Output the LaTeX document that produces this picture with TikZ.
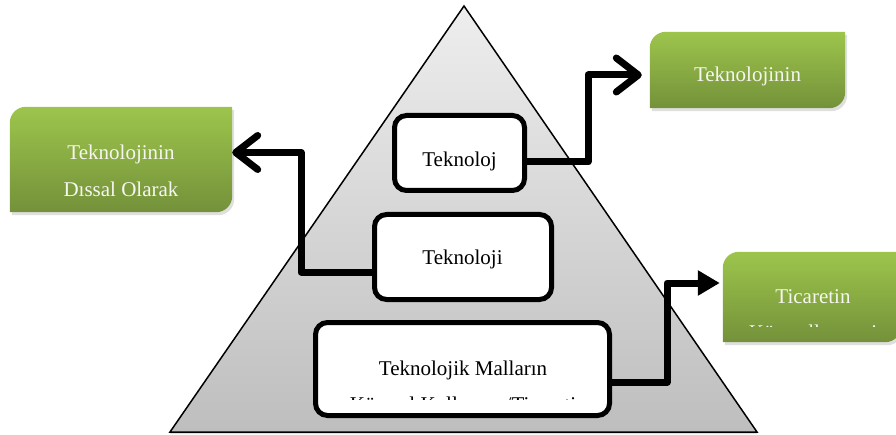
\documentclass[tikz,border=0pt]{standalone}
\usepackage{fontspec}
\setmainfont{Liberation Serif}
\usetikzlibrary{arrows.meta,shadows}
\definecolor{gtop}{RGB}{157,197,76}
\definecolor{gbot}{RGB}{116,145,58}
\definecolor{tritop}{RGB}{238,238,238}
\definecolor{tribot}{RGB}{190,190,190}
\definecolor{gtext}{RGB}{246,246,240}
\begin{document}
\begin{tikzpicture}[x=1pt,y=1pt,
  wbox/.style={draw=black,line width=5pt,fill=white,rounded corners=12pt,inner sep=0pt,rectangle},
  gbox/.style={inner sep=0pt,rectangle},
  btxt/.style={font=\fontsize{21}{25}\selectfont,text=black,inner sep=0pt,anchor=base},
  gtxt/.style={btxt,text=gtext},
  gfill/.style={top color=gtop,bottom color=gbot,draw=none,
    drop shadow={opacity=0.25,shadow xshift=2pt,shadow yshift=-3pt}},
  conn/.style={line width=7pt,line join=round,draw=black},
  barb/.style={-{Straight Barb[length=22pt,width=34pt,line cap=round,line join=round]}},
  tri/.style={-{Triangle[length=22pt,width=24pt]}}
]
\clip (0,0) rectangle (896,434);
\useasboundingbox (0,0) rectangle (896,434);

% pyramid
\path[draw=black,line width=1.5pt,top color=tritop,bottom color=tribot,
  drop shadow={opacity=0.25,shadow xshift=0pt,shadow yshift=-2pt}]
  (464,428) -- (757,2) -- (170,2) -- cycle;

% white boxes
\node[wbox,minimum width=130pt,minimum height=75pt] (b1) at (459.5,281) {};
\node[wbox,minimum width=177pt,minimum height=85pt] (b2) at (463,177) {};
\node[wbox,minimum width=294pt,minimum height=93pt] (b3) at (462.5,65) {};

\node[btxt] (t1) at (459.5,267) {Teknoloj};
\node[btxt] (t2) at (462.5,169) {Teknoloji};
\node[btxt] (t3) at (463,59) {Teknolojik Malların};
\begin{scope}
  \clip (316,35) rectangle (609,112);
  \node[btxt] (t3b) at (463,23) {Küresel Kullanımı/Ticareti};
\end{scope}

% green boxes
\node[gbox,minimum width=222pt,minimum height=105pt] (gl) at (121,274.5) {};
\node[gbox,minimum width=195pt,minimum height=76pt] (gr) at (747.5,364) {};
\node[gbox,minimum width=178pt,minimum height=90pt] (gb) at (812,137) {};

\foreach \n in {gl,gr,gb}{
  \path[gfill] (\n.south west) -- ([yshift=-16pt]\n.north west)
    arc[start angle=180,end angle=90,radius=16pt] -- (\n.north east)
    -- ([yshift=16pt]\n.south east)
    arc[start angle=0,end angle=-90,radius=16pt] -- cycle;
}

\node[gtxt] (gl1) at (121,274) {Teknolojinin};
\node[gtxt] (gl2) at (121,237) {Dıssal Olarak};
\node[gtxt] (gr1) at (747.5,352) {Teknolojinin};
\node[gtxt] (gb1) at (813,131) {Ticaretin};
\begin{scope}
  \clip (723,108) rectangle (900,182);
  \node[gtxt] (gb2) at (813,95) {Küreselleşmesi};
\end{scope}

% connectors
\draw[conn,barb] ([yshift=-15pt]b2.west) -- ++(-71pt,0) |- ([yshift=7pt]gl.east);
\draw[conn,barb,shorten >=8pt] ([yshift=-9pt]b1.east) -- ++(61pt,0) |- ([yshift=-5pt]gr.west);
\draw[conn,tri,shorten >=3pt] ([yshift=-13pt]b3.east) -- ++(55pt,0) |- ([yshift=14pt]gb.west);
\end{tikzpicture}
\end{document}
